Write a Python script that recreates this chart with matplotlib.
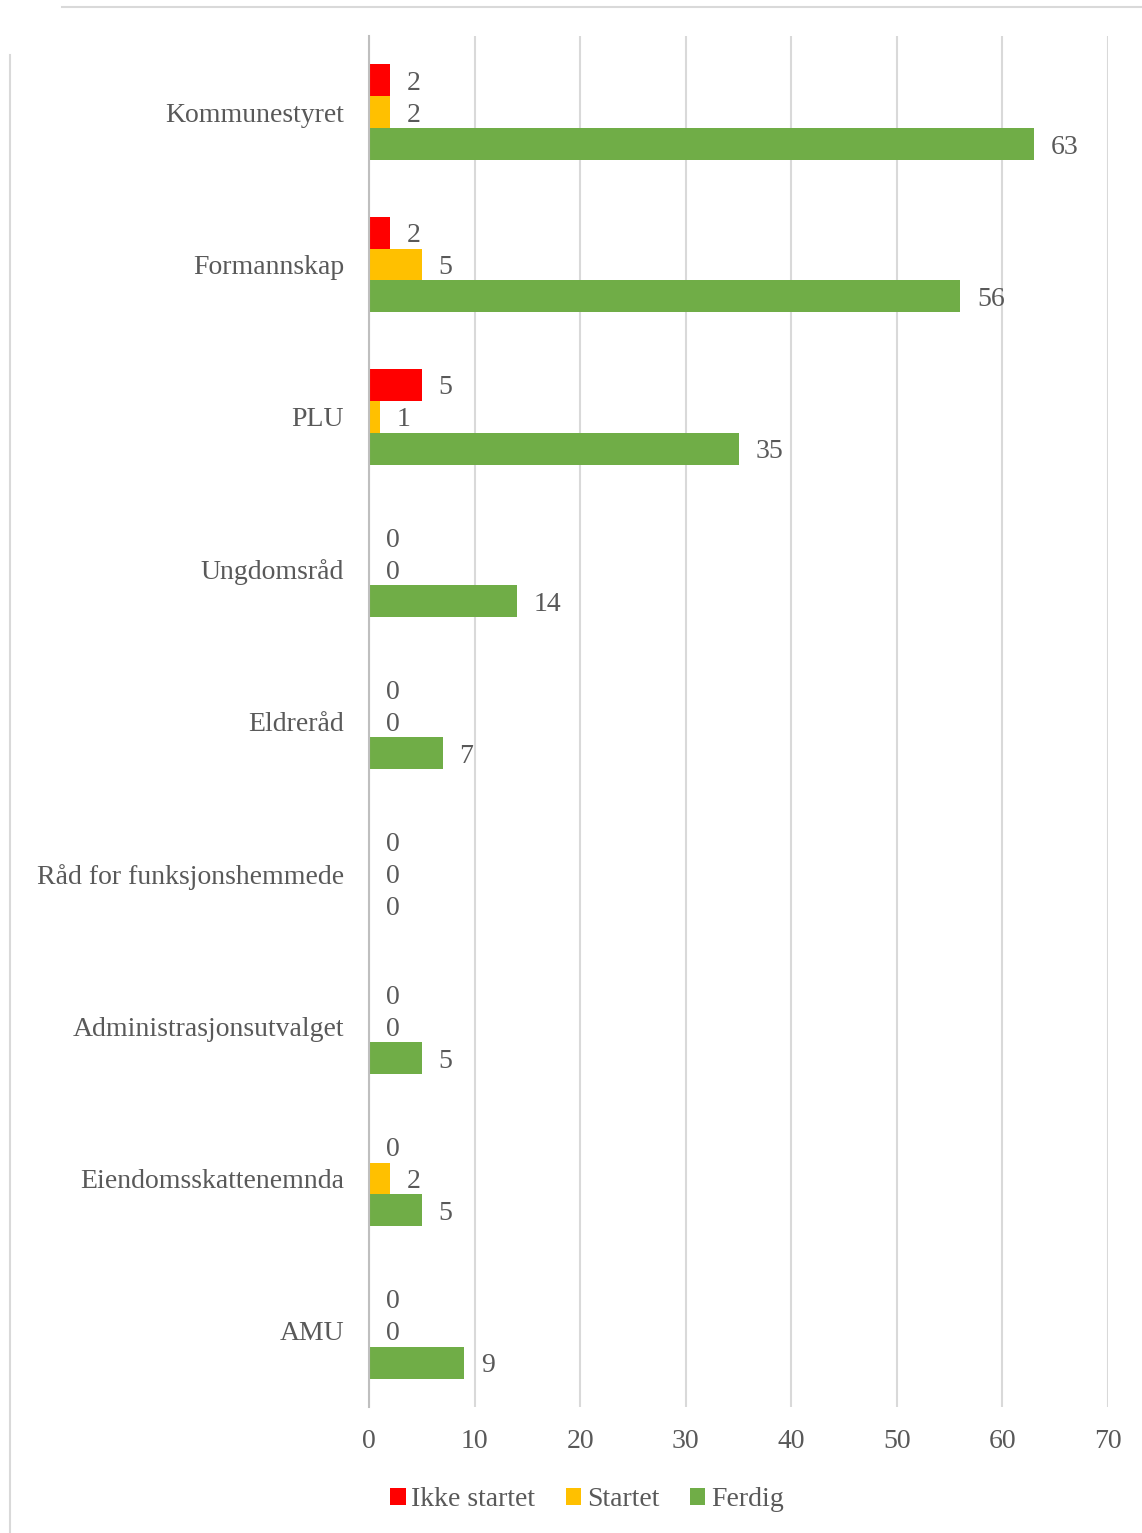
import numpy as np
import matplotlib
matplotlib.use("Agg")
import matplotlib.pyplot as plt
from matplotlib.lines import Line2D

categories = ["Kommunestyret", "Formannskap", "PLU", "Ungdomsråd", "Eldreråd",
              "Råd for funksjonshemmede", "Administrasjonsutvalget",
              "Eiendomsskattenemnda", "AMU"]
ikke_startet = [2, 2, 5, 0, 0, 0, 0, 0, 0]
startet = [2, 5, 1, 0, 0, 0, 0, 2, 0]
ferdig = [63, 56, 35, 14, 7, 0, 5, 5, 9]
series_names = ["Ikke startet", "Startet", "Ferdig"]
series_colors = ["#FF0000", "#FFC000", "#70AD47"]
x_ticks = [0, 10, 20, 30, 40, 50, 60, 70]

plt.rcParams["font.family"] = ["Liberation Serif", "DejaVu Serif"]
text_color = "#595959"
grid_color = "#d9d9d9"
fs = 20

fig = plt.figure(figsize=(11.42, 15.33), dpi=100)
ax = fig.add_axes([369 / 1142, 1 - 1407 / 1533, (1108 - 369) / 1142, (1407 - 36) / 1533])

y = np.arange(len(categories))
h = 0.21
for k, (vals, name, col) in enumerate(zip([ikke_startet, startet, ferdig], series_names, series_colors)):
    pos = y + (k - 1) * h
    ax.barh(pos, vals, height=h, color=col, label=name, zorder=3)
    for p, v in zip(pos, vals):
        ax.annotate(str(v), xy=(v, p), xytext=(12, 0), textcoords="offset points",
                    ha="left", va="center_baseline", fontsize=fs, color=text_color)

ax.set_xlim(0, 70)
ax.set_ylim(len(categories) - 0.5, -0.5)
ax.set_xticks(x_ticks)
ax.set_xticklabels([str(t) for t in x_ticks])
ax.set_yticks(y)
ax.set_yticklabels(categories)
ax.tick_params(axis="y", length=0, pad=18, labelsize=fs, labelcolor=text_color)
ax.tick_params(axis="x", length=0, pad=16, labelsize=fs, labelcolor=text_color)
ax.grid(axis="x", color=grid_color, linewidth=1.5, zorder=0)
for s in ["top", "right", "bottom"]:
    ax.spines[s].set_visible(False)
ax.spines["left"].set_color("#bfbfbf")
ax.spines["left"].set_linewidth(1.5)
ax.spines["left"].set_zorder(4)

fig.legend(loc="center", bbox_to_anchor=(587 / 1142, 1 - 1500 / 1533), ncol=3,
           frameon=False, fontsize=fs, labelcolor=text_color,
           handlelength=0.56, handleheight=0.56, handletextpad=0.2,
           columnspacing=1.1, borderpad=0)

# frame decorations
fig.add_artist(Line2D([62 / 1142, 1.0], [1 - 7 / 1533] * 2, color=grid_color, linewidth=1.5))
fig.add_artist(Line2D([10 / 1142] * 2, [0.0, 1 - 55 / 1533], color=grid_color, linewidth=1.5))

fig.savefig("out.png", dpi=100)
